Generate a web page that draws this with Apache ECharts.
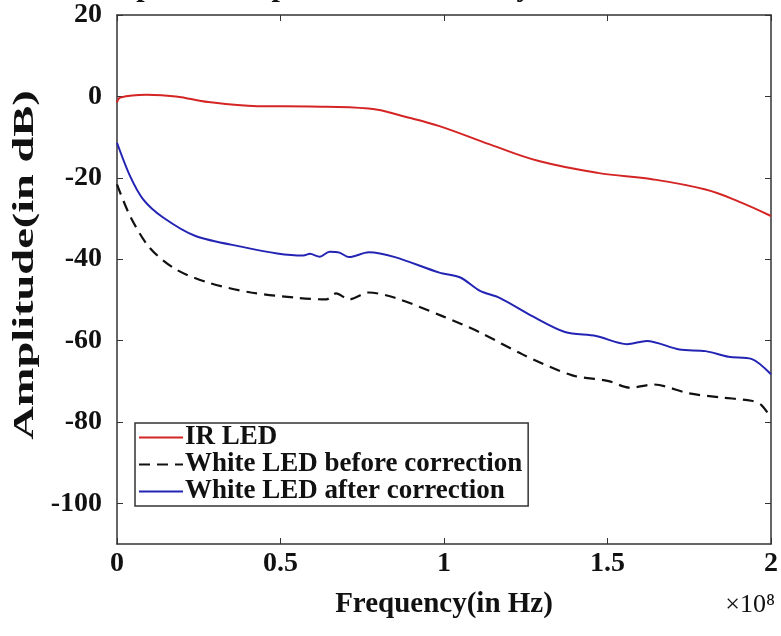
<!DOCTYPE html>
<html>
<head>
<meta charset="utf-8">
<script src="https://cdn.jsdelivr.net/npm/echarts@6/dist/echarts.min.js"></script>
<style>html,body{margin:0;padding:0;background:#fff}#c{width:781px;height:636px}</style>
</head>
<body>
<div id="c"></div>
<script>
// Frequency in units of 1e8 Hz, amplitude in dB
const irFreq = [0, 0.01, 0.09, 0.18, 0.28, 0.43, 0.59, 0.77, 0.89, 0.986, 1.14, 1.29, 1.47, 1.64, 1.80, 1.90, 2.0];
const irAmp  = [-1.5, -0.3, 0.4, 0, -1.4, -2.4, -2.5, -3.0, -5.2, -7.3, -11.8, -15.9, -18.8, -20.4, -22.9, -25.8, -29.4];

const beforeFreq = [0, 0.04, 0.10, 0.18, 0.28, 0.41, 0.55, 0.64, 0.67, 0.71, 0.77, 0.85, 0.995, 1.11, 1.24, 1.39, 1.50, 1.57, 1.64, 1.75, 1.85, 1.94, 1.97, 2.0];
const beforeAmp  = [-21.6, -29.4, -37.2, -42.5, -45.8, -48.2, -49.5, -49.9, -48.4, -49.9, -48.2, -49.5, -54.0, -58.0, -63.4, -68.5, -69.9, -71.6, -70.8, -73.0, -74.0, -74.8, -75.8, -79.0];

const afterFreq = [0, 0.04, 0.08, 0.14, 0.24, 0.39, 0.49, 0.57, 0.59, 0.62, 0.65, 0.68, 0.71, 0.77, 0.85, 0.986, 1.05, 1.11, 1.17, 1.27, 1.37, 1.465, 1.56, 1.62, 1.72, 1.80, 1.87, 1.94, 2.0];
const afterAmp  = [-11.4, -19.6, -25.3, -29.7, -34.3, -37.1, -38.6, -39.1, -38.7, -39.4, -38.2, -38.4, -39.5, -38.3, -39.5, -43.3, -44.5, -47.8, -49.5, -54.0, -57.9, -58.9, -60.9, -60.1, -62.2, -62.6, -64.0, -64.5, -68.3];

const seriesNames = ['IR LED', 'White LED before correction', 'White LED after correction'];
const yTicks = [-100, -80, -60, -40, -20, 0, 20];
const xTicks = [0, 0.5, 1, 1.5, 2];
const titleText = 'Amplitude response of the IR-V system in LOS';
const xName = 'Frequency(in Hz)';
const yName = 'Amplitude(in dB)';

const zip = (a, b) => a.map((v, i) => [v, b[i]]);
const font = 'Liberation Serif';

const chart = echarts.init(document.getElementById('c'), null, {renderer: 'canvas'});
chart.setOption({
  backgroundColor: '#fff',
  animation: false,
  grid: {left: 117, right: 8, top: 15, bottom: 92},
  xAxis: [{
    type: 'value', min: 0, max: 2, interval: 0.5,
    axisLine: {onZero: false, lineStyle: {color: '#333', width: 1.5}},
    axisTick: {inside: true, length: 6, lineStyle: {color: '#333'}},
    axisLabel: {color: '#111', fontFamily: font, fontWeight: 'bold', fontSize: 28, margin: 6,
      formatter: v => String(v)},
    splitLine: {show: false},
    name: xName, nameLocation: 'middle', nameGap: 46,
    nameTextStyle: {color: '#111', fontFamily: font, fontWeight: 'bold', fontSize: 29}
  }, {
    type: 'value', min: 0, max: 2, interval: 0.5, position: 'top',
    axisLine: {show: true, onZero: false, lineStyle: {color: '#333', width: 1.5}},
    axisTick: {inside: true, length: 6, lineStyle: {color: '#333'}},
    axisLabel: {show: false}, splitLine: {show: false}
  }],
  yAxis: [{
    type: 'value', min: -110, max: 20,
    axisLine: {show: true, onZero: false, lineStyle: {color: '#333', width: 1.5}},
    axisTick: {inside: true, length: 6, lineStyle: {color: '#333'}, customValues: yTicks},
    axisLabel: {color: '#111', fontFamily: font, fontWeight: 'bold', fontSize: 28, margin: 15, customValues: yTicks},
    splitLine: {show: false}
  }, {
    type: 'value', min: -110, max: 20, position: 'right',
    axisLine: {show: true, onZero: false, lineStyle: {color: '#333', width: 1.5}},
    axisTick: {inside: true, length: 6, lineStyle: {color: '#333'}, customValues: yTicks},
    axisLabel: {show: false}, splitLine: {show: false}
  }],
  legend: {
    orient: 'vertical', left: 135, top: 423,
    backgroundColor: '#fff', borderColor: '#333', borderWidth: 1.5,
    padding: [1, 6, 1, 3], itemGap: 0, itemWidth: 44, itemHeight: 14,
    itemStyle: {opacity: 0},
    textStyle: {color: '#111', fontFamily: font, fontWeight: 'bold', fontSize: 27, lineHeight: 27, padding: [0, 0, 0, -3]},
    data: seriesNames
  },
  graphic: [{
    type: 'text', left: 'center', top: -27,
    style: {text: titleText, fill: '#111', font: 'bold 30px "Liberation Serif"'}
  }, {
    type: 'text', x: 26, y: 265, rotation: Math.PI / 2, scaleX: 1.6, scaleY: 1.0,
    style: {text: yName, fill: '#111', font: 'bold 29px "Liberation Serif"', align: 'center', verticalAlign: 'middle'}
  }, {
    type: 'text', right: 6, top: 592,
    style: {text: '×10⁸', fill: '#111', font: '26px "Liberation Serif"'}
  }],
  series: [{
    name: seriesNames[0], type: 'line', data: zip(irFreq, irAmp), smooth: 0.4,
    showSymbol: false, symbol: 'none',
    lineStyle: {color: '#d42424', width: 2}, itemStyle: {color: '#d42424'}
  }, {
    name: seriesNames[1], type: 'line', data: zip(beforeFreq, beforeAmp), smooth: 0.3,
    showSymbol: false, symbol: 'none',
    lineStyle: {color: '#111', width: 2.2, type: [11, 7]}, itemStyle: {color: '#111'}
  }, {
    name: seriesNames[2], type: 'line', data: zip(afterFreq, afterAmp), smooth: 0.3,
    showSymbol: false, symbol: 'none',
    lineStyle: {color: '#2424b4', width: 2}, itemStyle: {color: '#2424b4'}
  }]
});
</script>
</body>
</html>
